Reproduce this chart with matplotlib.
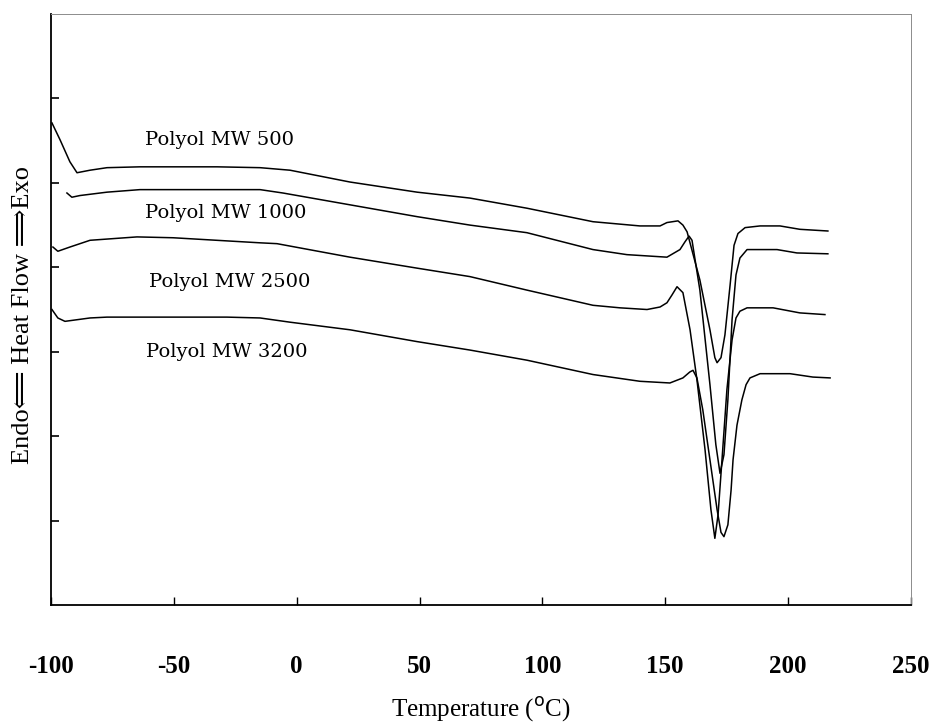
import matplotlib
matplotlib.use("Agg")
import matplotlib.pyplot as plt

# DSC traces (temperature in degC, heat flow in arbitrary units)
t_500 = [-99.6, -96.3, -92.3, -89.4, -84.1, -77.2, -63.8, -32.4, -14.9, -2.7, 21.7, 49.0, 70.5,
         93.7, 120.6, 139.7, 147.9, 150.7, 155.2, 157.2, 158.9, 164.1, 168.2, 170.2, 171.1, 172.7,
         174.3, 176.4, 178.0, 179.6, 182.5, 188.6, 196.7, 204.8, 216.2]
hf_500 = [5.71, 5.51, 5.25, 5.12, 5.15, 5.18, 5.19, 5.19, 5.18, 5.15, 5.01, 4.89, 4.82,
          4.70, 4.54, 4.49, 4.49, 4.53, 4.55, 4.50, 4.42, 3.85, 3.26, 2.93, 2.87, 2.93,
          3.20, 3.79, 4.26, 4.40, 4.47, 4.49, 4.49, 4.45, 4.43]

t_1000 = [-93.5, -91.5, -88.2, -77.2, -63.8, -14.9, -5.6, 21.7, 49.0, 70.5, 93.7, 120.6, 134.4,
          150.7, 156.0, 158.0, 159.7, 160.9, 164.1, 168.2, 170.6, 172.3, 173.9, 175.5, 177.2,
          178.8, 180.4, 183.3, 195.5, 203.6, 216.2]
hf_1000 = [4.88, 4.83, 4.85, 4.89, 4.92, 4.92, 4.88, 4.74, 4.60, 4.50, 4.41, 4.21, 4.15,
           4.12, 4.21, 4.30, 4.37, 4.32, 3.73, 2.61, 1.90, 1.56, 1.78, 2.43, 3.38,
           3.91, 4.11, 4.21, 4.21, 4.17, 4.16]

t_2500 = [-99.2, -97.2, -92.3, -84.1, -65.0, -50.3, -14.9, -8.0, 21.7, 49.0, 70.5, 93.7, 120.6,
          131.6, 142.6, 147.9, 150.7, 152.7, 154.8, 157.2, 160.1, 162.9, 166.2, 168.6, 170.2,
          171.5, 173.1, 175.1, 177.2, 178.8, 180.4, 183.3, 193.9, 204.8, 215.0]
hf_2500 = [4.24, 4.19, 4.24, 4.32, 4.36, 4.35, 4.29, 4.28, 4.12, 3.99, 3.89, 3.73, 3.55,
           3.52, 3.50, 3.53, 3.58, 3.67, 3.77, 3.70, 3.26, 2.67, 1.84, 1.13, 0.79,
           1.07, 1.72, 2.55, 3.14, 3.40, 3.48, 3.52, 3.52, 3.46, 3.44]

t_3200 = [-99.6, -97.2, -94.3, -84.1, -77.2, -28.4, -14.9, -2.7, 21.7, 49.0, 70.5, 93.7, 120.6,
          139.7, 151.9, 157.2, 160.0, 161.3, 162.9, 165.3, 168.2, 171.1, 172.7, 173.9, 175.5,
          176.8, 177.6, 179.2, 181.2, 182.9, 184.5, 188.6, 200.8, 210.1, 217.1]
hf_3200 = [3.50, 3.40, 3.36, 3.40, 3.41, 3.41, 3.40, 3.35, 3.26, 3.12, 3.02, 2.90, 2.73,
           2.65, 2.63, 2.69, 2.76, 2.78, 2.69, 2.31, 1.72, 1.13, 0.86, 0.81, 0.95,
           1.36, 1.72, 2.13, 2.43, 2.61, 2.69, 2.74, 2.74, 2.70, 2.69]

labels = ["Polyol MW 500", "Polyol MW 1000", "Polyol MW 2500", "Polyol MW 3200"]
label_x = [-61.7, -61.7, -60.1, -61.3]
label_y = [5.51, 4.64, 3.83, 3.00]

x_ticks = [-100, -50, 0, 50, 100, 150, 200, 250]
y_ticks = [1, 2, 3, 4, 5, 6]

serif = ["Liberation Serif", "DejaVu Serif", "DejaVu Sans"]

fig = plt.figure(figsize=(9.3, 7.22), dpi=100)
ax = fig.add_axes([0.0548, 0.162, 0.9247, 0.8186])

for t, hf in [(t_500, hf_500), (t_1000, hf_1000), (t_2500, hf_2500), (t_3200, hf_3200)]:
    ax.plot(t, hf, color="black", lw=1.1)

for txt, lx, ly in zip(labels, label_x, label_y):
    ax.text(lx, ly, txt, fontsize=14, family=["DejaVu Serif"], va="center", ha="left")

ax.set_xlim(-100, 250)
ax.set_ylim(0, 7)
ax.set_xticks(x_ticks)
ax.set_xticklabels([str(v) for v in x_ticks], family=serif, fontsize=18, fontweight="bold")
ax.set_yticks(y_ticks)
ax.set_yticklabels([])
ax.tick_params(axis="x", direction="in", length=6, width=1, pad=36)
ax.tick_params(axis="y", direction="in", length=6, width=1.2)

ax.set_xlabel("Temperature ($^{\\rm o}$C)", family=serif, fontsize=18, labelpad=12)
ax.set_ylabel("Endo\u27f8 Heat Flow \u27f9Exo", family=serif, fontsize=19)
ax.yaxis.set_label_coords(-0.02, 0.49)

for side in ["left", "bottom"]:
    ax.spines[side].set_linewidth(1.3)
for side in ["top", "right"]:
    ax.spines[side].set_linewidth(0.7)
    ax.spines[side].set_color("0.55")

fig.savefig("out.png", dpi=100)
